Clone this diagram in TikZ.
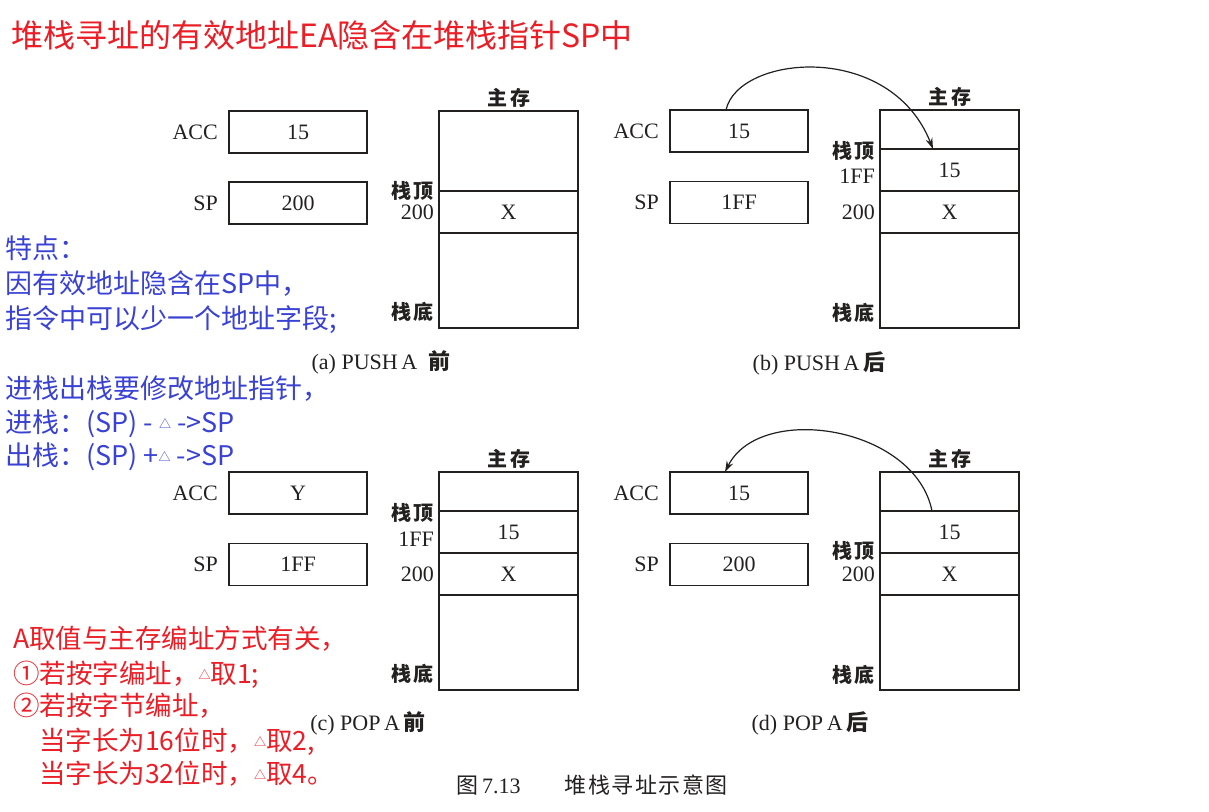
\documentclass[tikz,border=0pt]{standalone}
\usepackage{fontspec}
\setmainfont{Liberation Serif}
\newfontfamily\cjk{Noto Sans CJK SC}
\usetikzlibrary{positioning, arrows.meta}
\definecolor{NoteRed}{RGB}{234,30,38}
\definecolor{NoteBlue}{RGB}{58,66,212}
\definecolor{InkColor}{RGB}{35,32,32}
\tikzstyle{reg} = [draw=InkColor, line width=1.6pt, minimum width=138pt, minimum height=42pt, inner sep=0pt, outer sep=0pt, text=InkColor, font=\fontsize{22}{22}\selectfont]
\tikzstyle{cell} = [draw=InkColor, line width=1.6pt, minimum width=139pt, inner sep=0pt, outer sep=0pt, text=InkColor, font=\fontsize{22}{22}\selectfont]
\tikzstyle{lbl} = [inner sep=0pt, text=InkColor, font=\fontsize{22}{22}\selectfont]
\tikzstyle{numlbl} = [inner sep=0pt, text=InkColor, font=\fontsize{22}{22}\selectfont]
\tikzstyle{cnlbl} = [inner sep=0pt, text=InkColor, font=\cjk\bfseries\fontsize{20}{20}\selectfont]
\tikzstyle{subcap} = [inner sep=0pt, text=InkColor, font=\fontsize{22}{22}\selectfont]
\tikzstyle{stackarrow} = [line width=1.2pt, InkColor, -{Stealth[length=11pt, width=7pt]}]
\tikzstyle{bluenote} = [inner sep=0pt, anchor=base west, text=NoteBlue, font=\cjk\fontsize{27}{27}\selectfont]
\tikzstyle{rednote} = [inner sep=0pt, anchor=base west, text=NoteRed, font=\cjk\fontsize{26.5}{26.5}\selectfont]
\newcommand{\dtri}{\raisebox{4pt}{\fontsize{12}{12}\selectfont △}}

\begin{document}
\begin{tikzpicture}[x=1pt, y=-1pt]
    \useasboundingbox (0,0) rectangle (1209,811);
    \fill[white] (0,0) rectangle (1209,811);

    % title line
    \node[rednote, font=\cjk\fontsize{32}{32}\selectfont] (title) at (11,47) {堆栈寻址的有效地址EA隐含在堆栈指针SP中};

    % (a) PUSH A before
    \begin{scope}
        \node[reg] (accA) at (298,132) {15};
        \node[reg] (spA) at (298,203) {200};
        \node[lbl, left=11pt of accA] (accAl) {ACC};
        \node[lbl, left=11pt of spA] (spAl) {SP};
        \node[cell, minimum height=80pt] (cA1) at (508.5,151) {};
        \node[cell, minimum height=42pt, below=0pt of cA1] (cA2) {X};
        \node[cell, minimum height=95pt, below=0pt of cA2] (cA3) {};
        \node[cnlbl, above=3pt of cA1] (memA) {主\hspace{3pt}存};
        \node[cnlbl, left=5pt of cA2.north west] (topA) {栈\hspace{2pt}顶};
        \node[numlbl, left=5pt of cA2.west] (adrA) {200};
        \node[cnlbl, left=5pt of cA3.south west, yshift=16pt] (botA) {栈\hspace{2pt}底};
        \node[subcap] (capA) at (381,362) {(a) PUSH\,A\enspace{\cjk\bfseries 前}};
    \end{scope}

    % (b) PUSH A after
    \begin{scope}[xshift=441pt]
        \node[reg] (accB) at (298,131) {15};
        \node[reg] (spB) at (298,202.5) {1FF};
        \node[lbl, left=11pt of accB] (accBl) {ACC};
        \node[lbl, left=11pt of spB] (spBl) {SP};
        \node[cell, minimum height=39pt] (cB1) at (508.5,129.5) {};
        \node[cell, minimum height=42pt, below=0pt of cB1] (cB2) {15};
        \node[cell, minimum height=42pt, below=0pt of cB2] (cB3) {X};
        \node[cell, minimum height=95pt, below=0pt of cB3] (cB4) {};
        \node[cnlbl, above=3pt of cB1] (memB) {主\hspace{3pt}存};
        \node[cnlbl, left=5pt of cB2.north west, yshift=-2pt] (topB) {栈\hspace{2pt}顶};
        \node[numlbl, left=5pt of cB2.west, yshift=-6pt] (ffB) {1FF};
        \node[numlbl, left=5pt of cB3.west] (adrB) {200};
        \node[cnlbl, left=5pt of cB4.south west, yshift=15pt] (botB) {栈\hspace{2pt}底};
        \node[subcap] (capB) at (378,363) {(b) PUSH\,A\,{\cjk\bfseries 后}};
        \draw[stackarrow] ([xshift=-13pt]accB.north) .. controls +(12,-55) and +(-43,-109) .. ([xshift=-16.5pt]cB2.north);
    \end{scope}

    % (c) POP A before
    \begin{scope}[yshift=-361pt]
        \node[reg] (accC) at (298,132) {Y};
        \node[reg] (spC) at (298,203.5) {1FF};
        \node[lbl, left=11pt of accC] (accCl) {ACC};
        \node[lbl, left=11pt of spC] (spCl) {SP};
        \node[cell, minimum height=39pt] (cC1) at (508.5,130.5) {};
        \node[cell, minimum height=42pt, below=0pt of cC1] (cC2) {15};
        \node[cell, minimum height=42pt, below=0pt of cC2] (cC3) {X};
        \node[cell, minimum height=95pt, below=0pt of cC3] (cC4) {};
        \node[cnlbl, above=3pt of cC1] (memC) {主\hspace{3pt}存};
        \node[cnlbl, left=5pt of cC2.north west, yshift=-2pt] (topC) {栈\hspace{2pt}顶};
        \node[numlbl, left=5pt of cC2.west, yshift=-7pt] (ffC) {1FF};
        \node[numlbl, left=5pt of cC3.west] (adrC) {200};
        \node[cnlbl, left=5pt of cC4.south west, yshift=16pt] (botC) {栈\hspace{2pt}底};
        \node[subcap] (capC) at (368,362) {(c) POP\,A\,{\cjk\bfseries 前}};
    \end{scope}

    % (d) POP A after
    \begin{scope}[xshift=441pt, yshift=-361pt]
        \node[reg] (accD) at (298,132) {15};
        \node[reg] (spD) at (298,203.5) {200};
        \node[lbl, left=11pt of accD] (accDl) {ACC};
        \node[lbl, left=11pt of spD] (spDl) {SP};
        \node[cell, minimum height=39pt] (cD1) at (508.5,130.5) {};
        \node[cell, minimum height=42pt, below=0pt of cD1] (cD2) {15};
        \node[cell, minimum height=42pt, below=0pt of cD2] (cD3) {X};
        \node[cell, minimum height=95pt, below=0pt of cD3] (cD4) {};
        \node[cnlbl, above=3pt of cD1] (memD) {主\hspace{3pt}存};
        \node[cnlbl, left=5pt of cD3.north west, yshift=2pt] (topD) {栈\hspace{2pt}顶};
        \node[numlbl, left=5pt of cD3.west] (adrD) {200};
        \node[cnlbl, left=5pt of cD4.south west, yshift=15pt] (botD) {栈\hspace{2pt}底};
        \node[subcap] (capD) at (369,362) {(d) POP\,A\,{\cjk\bfseries 后}};
        \draw[stackarrow] ([xshift=-17.5pt]cD2.north) .. controls +(-17,-85) and +(35,-70) .. ([xshift=-14pt]accD.north);
    \end{scope}

    % figure caption
    \node[subcap] (figcap) at (592,785) {{\cjk 图}\,7.13\quad\quad{\cjk 堆\hspace{1.5pt}栈\hspace{1.5pt}寻\hspace{1.5pt}址\hspace{1.5pt}示\hspace{1.5pt}意\hspace{1.5pt}图}};

    % blue notes
    \foreach \txt/\yy [count=\i] in {{特点：}/258, {因有效地址隐含在SP中，}/293, {指令中可以少一个地址字段;}/328,
        {进栈出栈要修改地址指针，}/398, {进栈：(SP) - \dtri{} ->SP}/432, {出栈：(SP) +\dtri{} ->SP}/465} {
            \node[bluenote, name=blue\i] at (5,\yy) {\txt};
        }

    % red notes
    \foreach \txt/\xx/\yy [count=\i] in {{A取值与主存编址方式有关，}/13/648, {①若按字编址，\dtri 取1;}/13/683,
        {②若按字节编址，}/13/715, {当字长为16位时，\dtri 取2,}/39/750, {当字长为32位时，\dtri 取4。}/39/783} {
            \node[rednote, name=red\i] at (\xx,\yy) {\txt};
        }
\end{tikzpicture}
\end{document}
